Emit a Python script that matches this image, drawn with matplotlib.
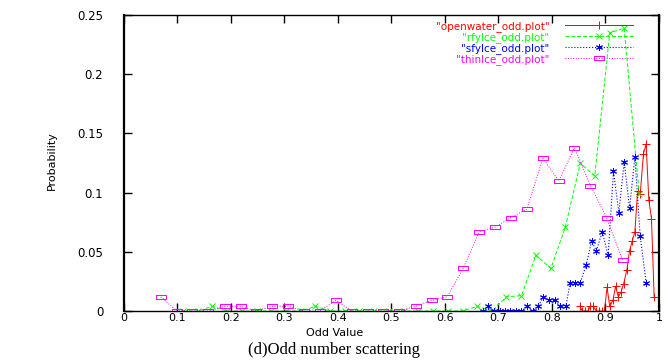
import numpy as np
import matplotlib
matplotlib.use("Agg")
import matplotlib.pyplot as plt
from matplotlib.path import Path

# openwater (red)
ow_x = [0.852, 0.857, 0.862, 0.867, 0.872, 0.877, 0.883, 0.888, 0.893, 0.898,
        0.903, 0.908, 0.914, 0.919, 0.924, 0.929, 0.934, 0.940, 0.945, 0.950,
        0.955, 0.960, 0.965, 0.971, 0.976, 0.981, 0.986, 0.991]
ow_y = [0.004, 0.0, 0.0, 0.0, 0.004, 0.004, 0.0, 0.0, 0.0, 0.0,
        0.020, 0.004, 0.009, 0.021, 0.012, 0.016, 0.023, 0.035, 0.051, 0.059,
        0.067, 0.101, 0.099, 0.133, 0.141, 0.094, 0.078, 0.012]

# rfyice (green)
rf_x = [0.110, 0.138, 0.165, 0.193, 0.220, 0.248, 0.275, 0.303, 0.330, 0.358,
        0.385, 0.413, 0.440, 0.468, 0.495, 0.523, 0.550, 0.578, 0.605, 0.633,
        0.660, 0.688, 0.715, 0.743, 0.770, 0.798, 0.825, 0.853, 0.880, 0.908,
        0.935, 0.963]
rf_y = [0.0, 0.0, 0.004, 0.0, 0.0, 0.0, 0.0, 0.0, 0.0, 0.004,
        0.0, 0.0, 0.0, 0.0, 0.0, 0.0, 0.0, 0.0, 0.0, 0.0,
        0.004, 0.0, 0.012, 0.013, 0.047, 0.036, 0.071, 0.125, 0.114, 0.235,
        0.239, 0.099]

# sfyice (blue)
sf_x = [0.671, 0.681, 0.691, 0.702, 0.712, 0.722, 0.733, 0.743, 0.753, 0.764,
        0.774, 0.784, 0.795, 0.805, 0.815, 0.826, 0.834, 0.843, 0.853, 0.864,
        0.874, 0.883, 0.894, 0.905, 0.915, 0.925, 0.935, 0.945, 0.955, 0.965,
        0.976]
sf_y = [0.0, 0.004, 0.0, 0.0, 0.0, 0.0, 0.0, 0.0, 0.004, 0.0,
        0.004, 0.012, 0.009, 0.009, 0.004, 0.004, 0.024, 0.024, 0.024, 0.039,
        0.059, 0.051, 0.067, 0.047, 0.118, 0.083, 0.126, 0.087, 0.130, 0.063,
        0.024]

# thinice (magenta)
ti_x = [0.069, 0.099, 0.128, 0.158, 0.188, 0.218, 0.247, 0.277, 0.307, 0.337,
        0.366, 0.396, 0.426, 0.456, 0.485, 0.515, 0.545, 0.575, 0.604, 0.634,
        0.664, 0.694, 0.723, 0.753, 0.783, 0.813, 0.842, 0.872, 0.902, 0.932]
ti_y = [0.012, 0.0, 0.0, 0.0, 0.004, 0.004, 0.0, 0.004, 0.004, 0.0,
        0.0, 0.009, 0.0, 0.0, 0.0, 0.0, 0.004, 0.009, 0.012, 0.036,
        0.067, 0.071, 0.079, 0.086, 0.129, 0.110, 0.138, 0.106, 0.079, 0.043]

labels = ['"openwater_odd.plot"', '"rfyIce_odd.plot"',
          '"sfyIce_odd.plot"', '"thinIce_odd.plot"']

box = Path([(-1, -0.5), (1, -0.5), (1, 0.5), (-1, 0.5), (-1, -0.5)])

fig = plt.figure(figsize=(6.69, 3.6), dpi=100)
ax = fig.add_axes([0.1853, 0.136, 0.7997, 0.822])

ax.plot(ow_x, ow_y, '-', color='#ff0000', lw=0.7, marker='+', ms=6, mew=0.7,
        label=labels[0])
ax.plot(rf_x, rf_y, '--', color='#00ff00', lw=0.7, marker='x', ms=4, mew=0.7,
        dashes=(4, 2), label=labels[1])
ax.plot(sf_x, sf_y, ':', color='#0000ff', lw=0.8, marker=(6, 2, 0), ms=5, mew=0.7,
        label=labels[2])
ax.plot(ti_x, ti_y, ':', color='#ff00ff', lw=0.7, marker=box, ms=7, mew=0.7,
        fillstyle='none', label=labels[3])

ax.set_xlim(0, 1)
ax.set_ylim(0, 0.25)
ax.set_xticks(np.arange(0, 1.01, 0.1))
ax.set_xticklabels(['0', '0.1', '0.2', '0.3', '0.4', '0.5', '0.6', '0.7',
                    '0.8', '0.9', '1'])
ax.set_yticks([0, 0.05, 0.1, 0.15, 0.2, 0.25])
ax.set_yticklabels(['0', '0.05', '0.1', '0.15', '0.2', '0.25'])
ax.tick_params(direction='in', length=6, width=1, top=True, right=True,
               labelsize=8.5, colors='black')
ax.tick_params(axis='y', pad=15)
ax.tick_params(axis='x', pad=1.5, labelsize=8)
for s in ['left', 'right']:
    ax.spines[s].set_linewidth(1.6)
for s in ['top', 'bottom']:
    ax.spines[s].set_linewidth(1.0)

fig.text(0.5, 0.074, 'Odd Value', fontsize=8, ha='center', va='center')
fig.text(0.078, 0.555, 'Probability', rotation=90, fontsize=8,
         family=['Liberation Sans Narrow', 'DejaVu Sans'],
         ha='center', va='center')

leg = ax.legend(loc='upper right', bbox_to_anchor=(0.965, 1.005),
                frameon=False, markerfirst=False, labelcolor='linecolor',
                fontsize=7.5, handlelength=6.5, labelspacing=0.0,
                handletextpad=1.5, borderpad=0.2)

fig.text(0.5, 0.027, '(d)Odd number scattering', fontsize=12,
         family=['Liberation Serif', 'DejaVu Serif'], ha='center', va='center')

fig.savefig('out.png', dpi=100)
